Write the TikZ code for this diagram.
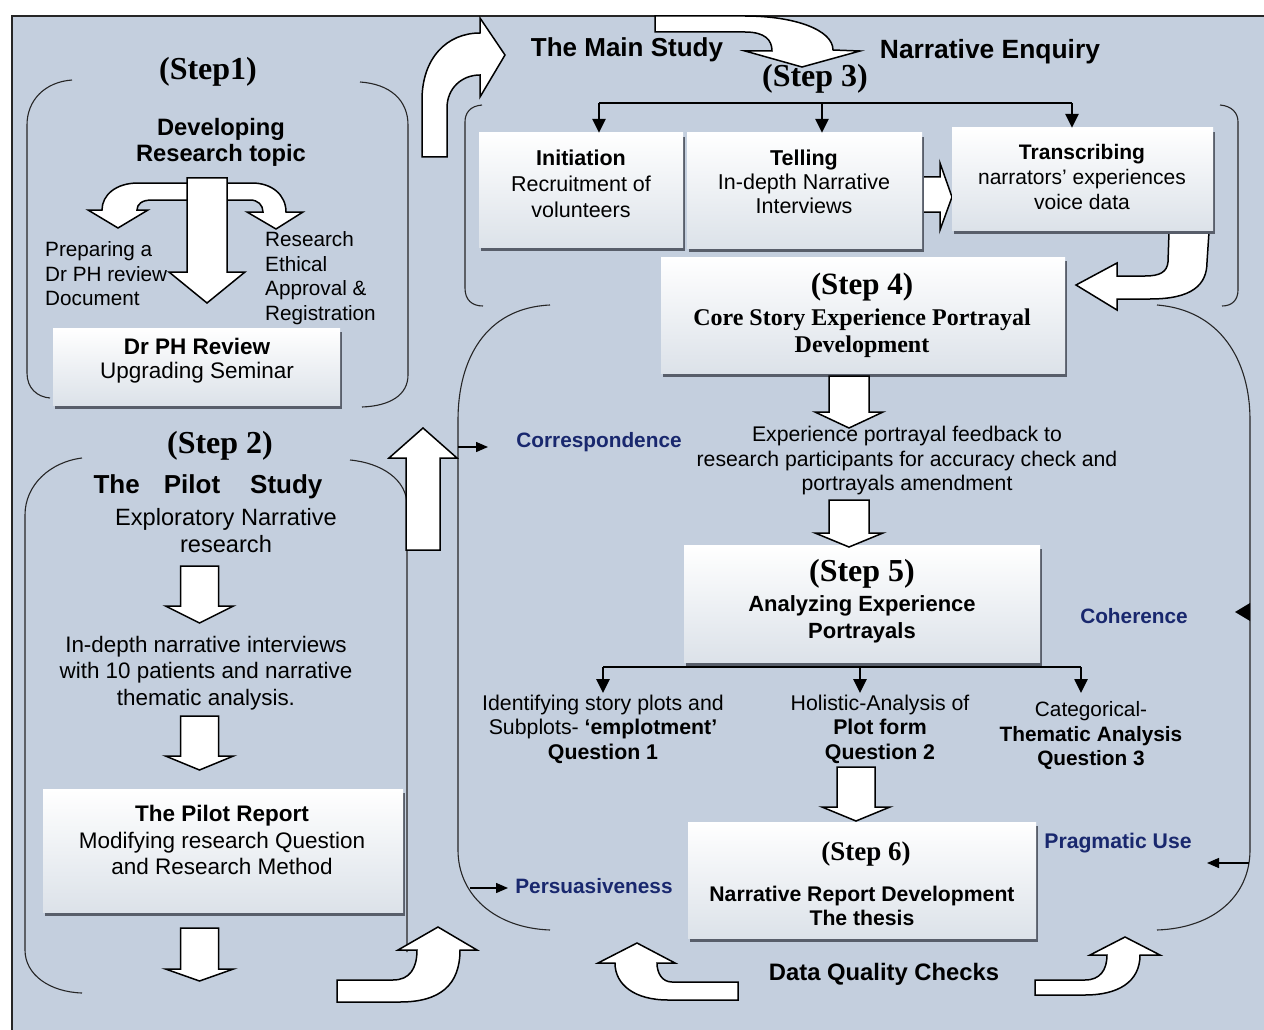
\documentclass[tikz,border=0pt]{standalone}
\usepackage{fontspec}
\setmainfont{Liberation Sans}
\newfontfamily\tms{Liberation Serif}
\usetikzlibrary{arrows.meta}
\newcommand\fsz[2]{\fontsize{#1}{#2}\selectfont}
\definecolor{bg}{RGB}{196,207,222}
\definecolor{boxbot}{RGB}{220,226,233}
\definecolor{shadowc}{RGB}{88,94,106}
\definecolor{navy}{RGB}{25,40,110}
\newcommand\blkdown[6]{\draw[blk] ({#1-#5},#2) -- ({#1+#5},#2) -- ({#1+#5},#3) -- ({#1+#6},#3) -- (#1,#4) -- ({#1-#6},#3) -- ({#1-#5},#3) -- cycle;}
\begin{document}
\begin{tikzpicture}[x=1pt,y=-1pt,
  blk/.style={fill=white, draw=black, line width=1.5pt, line join=miter},
  brk/.style={draw=black!85, line width=1.1pt},
  tree/.style={draw=black, line width=2.6pt},
  treetip/.style={-{Triangle[width=13pt,length=14pt]}},
  small/.style={draw=black, line width=1.4pt, -{Triangle[width=10pt,length=12pt]}},
  box/.style={inner sep=0pt, top color=white, bottom color=boxbot,
     preaction={fill=shadowc, transform canvas={xshift=2pt,yshift=-4pt}}},
  t/.style={inner sep=0pt, align=center, text=black},
  bl/.style={inner sep=0pt, text=navy, font=\bfseries\fsz{20.8}{24}}
]
\useasboundingbox (0,0) rectangle (1264,1030);
\fill[white] (0,0) rectangle (1264,1030);
\fill[bg] (12,16) rectangle (1264,1030);
\draw[line width=1.6pt, black!85] (12,1030) -- (12,16) -- (1264,16);

% ---------- brackets ----------
\draw[brk] (72,80) .. controls (45,82) and (27,100) .. (27,125) -- (27,373) .. controls (27,388) and (37,397) .. (50,398);
\draw[brk] (360,82) .. controls (390,84) and (408,100) .. (408,125) -- (408,375) .. controls (408,395) and (390,406) .. (362,407);
\draw[brk] (82,458) .. controls (50,462) and (25,485) .. (25,515) -- (25,950) .. controls (25,975) and (50,992) .. (82,993);
\draw[brk] (350,460) .. controls (382,463) and (407,480) .. (407,505) -- (407,952);
\draw[brk] (482,105) .. controls (470,106) and (465,113) .. (465,122) -- (465,288) .. controls (465,300) and (472,306) .. (483,306);
\draw[brk] (1220,105) .. controls (1232,106) and (1238,113) .. (1238,122) -- (1238,290) .. controls (1238,300) and (1232,306) .. (1222,306);
\draw[brk] (550,305) .. controls (485,308) and (458,360) .. (458,420) -- (458,850) .. controls (458,895) and (495,928) .. (550,930);
\draw[brk] (1157,305) .. controls (1220,310) and (1250,360) .. (1250,420) -- (1250,850) .. controls (1250,895) and (1215,928) .. (1157,930);

% ---------- block arrows under boxes ----------
\draw[blk] (918,177) -- (940,177) -- (940,163) -- (952,197) -- (940,230) -- (940,212) -- (918,212) -- cycle;
\draw[blk] (1169,232) -- (1168,262) .. controls (1167,272) and (1160,276) .. (1145,276) -- (1117,276) -- (1117,263) -- (1076,285) -- (1117,310) -- (1117,299) -- (1150,299) .. controls (1192,299) and (1207,285) .. (1207,262) -- (1209,232) -- cycle;

% ---------- boxes ----------
\node[box, minimum width=287, minimum height=77] (drph) at (196.5,366.5) {};
\node[box, minimum width=360, minimum height=123] (pr) at (223,850.5) {};
\node[box, minimum width=204, minimum height=114] (init) at (581,190) {};
\node[box, minimum width=235, minimum height=115] (tell) at (804.5,190.5) {};
\node[box, minimum width=261, minimum height=102] (trans) at (1082.5,179) {};
\node[box, minimum width=404, minimum height=116] (s4box) at (863,315) {};
\node[box, minimum width=356, minimum height=117] (s5box) at (862,603.5) {};
\node[box, minimum width=348, minimum height=116] (s6box) at (862,880) {};

% ---------- other block arrows ----------
% step 1 curved + down
\draw[blk] (200,183) -- (138,183) .. controls (116,183) and (102,195) .. (102,210) -- (88,210) -- (118,228) -- (148,210) -- (137,210) .. controls (137,204) and (142,200) .. (152,200) -- (200,200) -- cycle;
\draw[blk] (215,183) -- (252,183) .. controls (272,183) and (286,195) .. (286,212) -- (303,212) -- (276,229) -- (247,212) -- (263,212) .. controls (263,205) and (258,200) .. (250,200) -- (215,200) -- cycle;
\blkdown{207}{178}{272}{303}{20}{38}
% step 2 downs
\blkdown{199.5}{566}{606}{623}{19}{34}
\blkdown{199.5}{716}{756}{770}{19}{34}
\blkdown{199.5}{928}{969}{981}{19}{34}
% up arrow
\blkdown{423}{550}{458}{428}{17}{34}
% top bent arrow
\draw[blk] (422,157) -- (422,100) .. controls (422,58) and (447,33) .. (480,33) -- (480,18) -- (505,55) -- (480,97) -- (480,75) .. controls (462,75) and (447,88) .. (447,108) -- (447,157) -- cycle;
% step 3 curved arrow
\draw[blk] (655,16) -- (745,16) .. controls (795,16) and (833,30) .. (833,50) -- (860,51) -- (802,67) -- (745,51) -- (772,51) .. controls (772,40) and (765,32) .. (745,32) -- (655,32) -- cycle;
% steps 4-6 downs
\blkdown{849}{376}{412}{428}{20}{34}
\blkdown{849}{500}{533}{547}{20}{34}
\blkdown{856}{767}{807}{821}{19}{34}
% bottom arrows
\draw[blk] (337,980) -- (393,980) .. controls (410,980) and (417,968) .. (417,950) -- (398,950) -- (438,927) -- (477,950) -- (460,950) .. controls (460,985) and (440,1002) .. (400,1002) -- (337,1002) -- cycle;
\draw[blk] (738,982) -- (672,982) .. controls (662,982) and (657,973) .. (657,963) -- (675,963) -- (637,943) -- (598,963) -- (615,963) .. controls (615,985) and (635,1000) .. (668,1000) -- (738,1000) -- cycle;
\draw[blk] (1035,980) -- (1085,980) .. controls (1100,980) and (1107,970) .. (1107,955) -- (1090,955) -- (1125,937) -- (1160,955) -- (1140,955) .. controls (1140,982) and (1118,995) .. (1085,995) -- (1035,995) -- cycle;

% ---------- texts ----------
\node[t, font=\tms\bfseries\fsz{32}{36}] (s1) at (208,72) {(Step1)};
\node[t, font=\bfseries\fsz{23.7}{26}] (dev) at (221,142) {Developing\\Research topic};
\node[t, font=\fsz{20.7}{24.5}, align=left, anchor=west] (prep) at (45,274) {Preparing a\\Dr PH review\\Document};
\node[t, font=\fsz{20.7}{24.5}, align=left, anchor=west] (eth) at (265,278) {Research\\Ethical\\Approval \&\\Registration};
\node[t, font=\fsz{22.5}{24}] (drphT) at (197,361) {\textbf{Dr PH Review}\\Upgrading Seminar};

\node[t, font=\tms\bfseries\fsz{32}{36}] (s2) at (220,446) {(Step 2)};
\node[t, font=\bfseries\fsz{26}{30}] (pilot) at (208,487) {The\hspace{24pt}Pilot\hspace{30pt}Study};
\node[t, font=\fsz{23.6}{27}] (expl) at (226,531) {Exploratory Narrative\\research};
\node[t, font=\fsz{22.4}{26.5}] (indepth) at (206,673) {In-depth narrative interviews\\with 10 patients and narrative\\thematic analysis.};
\node[t, font=\fsz{22.5}{26.5}] (prT) at (222,840) {\textbf{The Pilot Report}\\Modifying research Question\\and Research Method};

\node[t, font=\bfseries\fsz{26}{30}] (ms) at (627,50) {The Main Study};
\node[t, font=\bfseries\fsz{26.4}{30}] (ne) at (990,52) {Narrative Enquiry};
\node[t, font=\tms\bfseries\fsz{32}{36}] (s3) at (815,79) {(Step 3)};
\node[t, font=\fsz{21.5}{26}] (initT) at (581,184) {\textbf{Initiation}\\Recruitment of\\volunteers};
\node[t, font=\fsz{21.5}{24}] (tellT) at (804,182) {\textbf{Telling}\\In-depth Narrative\\Interviews};
\node[t, font=\fsz{21}{25}] (transT) at (1082,177) {\textbf{Transcribing}\\narrators’ experiences\\voice data};

\node[t, font=\tms\bfseries\fsz{31}{36}] (s4) at (862,287) {(Step 4)};
\node[t, font=\tms\bfseries\fsz{24}{27}] (coreT) at (862,333) {Core Story Experience Portrayal\\Development};
\node[t, font=\fsz{21.2}{24.5}] (feed) at (907,461) {Experience portrayal feedback to\\research participants for accuracy check and\\portrayals amendment};
\node[t, font=\tms\bfseries\fsz{32}{36}] (s5) at (862,574) {(Step 5)};
\node[t, font=\bfseries\fsz{22}{27}] (anaT) at (862,619) {Analyzing Experience\\Portrayals};
\node[t, font=\fsz{21.3}{24.5}] (q1) at (603,729) {Identifying story plots and\\Subplots- \textbf{‘emplotment’}\\\textbf{Question 1}};
\node[t, font=\fsz{21.3}{24.5}] (q2) at (880,729) {Holistic-Analysis of\\\textbf{Plot form}\\\textbf{Question 2}};
\node[t, font=\fsz{20.8}{24.5}] (q3) at (1091,736) {Categorical-\\\textbf{Thematic Analysis}\\\textbf{Question 3}};
\node[t, font=\tms\bfseries\fsz{27}{30}] (s6) at (866,854) {(Step 6)};
\node[t, font=\bfseries\fsz{21.2}{24.5}] (nrT) at (862,906) {Narrative Report Development\\The thesis};
\node[t, font=\bfseries\fsz{23.8}{28}] (dqc) at (884,974) {Data Quality Checks};

\node[bl] (corr) at (599,442) {Correspondence};
\node[bl] (pers) at (594,886) {Persuasiveness};
\node[bl] (coh) at (1134,616) {Coherence};
\node[bl, font=\bfseries\fsz{21.2}{24}] (prag) at (1118,843) {Pragmatic Use};

% ---------- trees ----------
\coordinate (a1) at (599,103);
\coordinate (a2) at (822,103);
\coordinate (a3) at (1072,103);
\draw[tree] (a1) -- (a3);
\draw[tree, treetip] (a1) -- (a1 |- init.north);
\draw[tree, treetip] (a2) -- (a2 |- tell.north);
\draw[tree, treetip] (a3) -- (a3 |- trans.north);

\coordinate (b1) at (603,667);
\coordinate (b2) at (860,667);
\coordinate (b3) at (1081,667);
\coordinate (b1e) at (603,693);
\coordinate (b2e) at (860,693);
\coordinate (b3e) at (1081,693);
\draw[tree] (b1) -- (b3);
\draw[tree, treetip] (b1) -- (b1e);
\draw[tree, treetip] (b2) -- (b2e);
\draw[tree, treetip] (b3) -- (b3e);

% ---------- small arrows ----------
\coordinate (corrS) at (458,447);
\coordinate (corrE) at (488,447);
\draw[small] (corrS) -- (corrE);
\coordinate (persS) at (470,888);
\coordinate (persE) at (508,888);
\draw[small] (persS) -- (persE);
\coordinate (pragS) at (1249,863);
\coordinate (pragE) at (1207,863);
\draw[small] (pragS) -- (pragE);
\fill[black] (1235,612) -- (1250,603) -- (1250,621) -- cycle;
\end{tikzpicture}
\end{document}
